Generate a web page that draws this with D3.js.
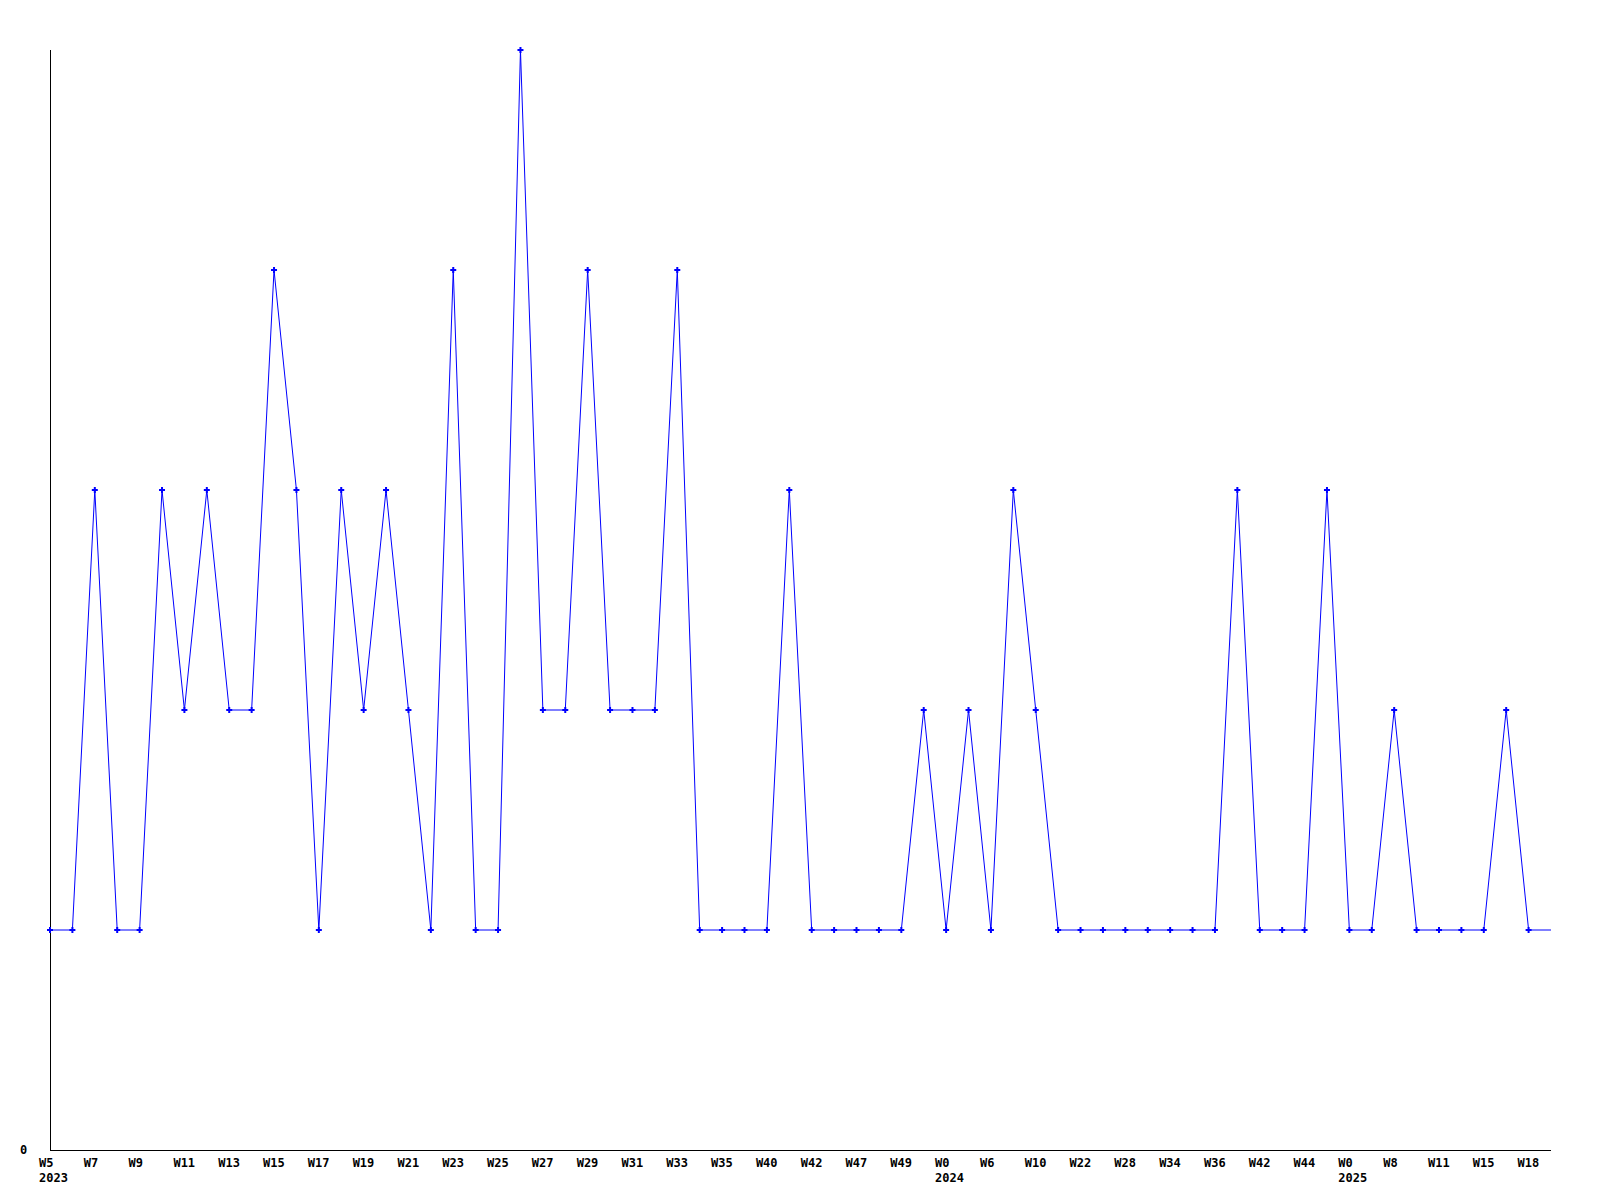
<!DOCTYPE html>
<html>
<head>
<meta charset="utf-8">
<script src="https://cdn.jsdelivr.net/npm/d3@7"></script>
<style>
  html, body { margin: 0; padding: 0; background: #fff; }
  svg { display: block; }
  text { font-family: "DejaVu Sans Mono", monospace; font-weight: bold; font-size: 12px; fill: #000; }
</style>
</head>
<body>
<svg id="chart" width="1600" height="1200"></svg>
<script>
// Week labels (only every other one is shown on the axis)
const weeks = [
  "W5","W6","W7","W8","W9","W10","W11","W12","W13","W14",
  "W15","W16","W17","W18","W19","W20","W21","W22","W23","W24",
  "W25","W26","W27","W28","W29","W30","W31","W32","W33","W34",
  "W35","W38","W40","W41","W42","W45","W47","W48","W49","W51",
  "W0","W3","W6","W8","W10","W17","W22","W25","W28","W31",
  "W34","W35","W36","W39","W42","W43","W44","W47","W0","W5",
  "W8","W10","W11","W13","W15","W17","W18"
];
const years = [
  2023,2023,2023,2023,2023,2023,2023,2023,2023,2023,
  2023,2023,2023,2023,2023,2023,2023,2023,2023,2023,
  2023,2023,2023,2023,2023,2023,2023,2023,2023,2023,
  2023,2023,2023,2023,2023,2023,2023,2023,2023,2023,
  2024,2024,2024,2024,2024,2024,2024,2024,2024,2024,
  2024,2024,2024,2024,2024,2024,2024,2024,2025,2025,
  2025,2025,2025,2025,2025,2025,2025
];
const values = [
  1,1,3,1,1,3,2,3,2,2,
  4,3,1,3,2,3,2,1,4,1,
  1,5,2,2,4,2,2,2,4,1,
  1,1,1,3,1,1,1,1,1,2,
  1,2,1,3,2,1,1,1,1,1,
  1,1,1,3,1,1,1,3,1,1,
  2,1,1,1,1,2,1
];
const yTickValues = [0];

(function () {
  const svg = d3.select("#chart");
  const mLeft = 50, mRight = 1551, mTop = 50, mBottom = 1150;

  // one extra slot past the last week: the axis (and line) run to it
  const x = d3.scaleLinear().domain([0, values.length]).range([mLeft, mRight]);
  const y = d3.scaleLinear().domain([0, d3.max(values)]).range([mBottom, mTop]);

  // axis lines
  svg.append("line").attr("x1", mLeft + 0.5).attr("x2", mLeft + 0.5)
    .attr("y1", mTop).attr("y2", mBottom + 0.5)
    .attr("stroke", "#000").attr("stroke-width", 1);
  svg.append("line").attr("x1", mLeft).attr("x2", mRight)
    .attr("y1", mBottom + 0.5).attr("y2", mBottom + 0.5)
    .attr("stroke", "#000").attr("stroke-width", 1);

  // y tick labels
  svg.selectAll("text.ylab").data(yTickValues).enter().append("text")
    .attr("class", "ylab")
    .attr("x", mLeft - 30)
    .attr("y", d => y(d) + 4)
    .text(d => d);

  // x labels (every other category)
  let lastYear = null;
  weeks.forEach((w, i) => {
    if (i % 2 !== 0) return;
    svg.append("text").attr("x", x(i) - 11).attr("y", mBottom + 17).text(w);
    if (years[i] !== lastYear) {
      svg.append("text").attr("x", x(i) - 11).attr("y", mBottom + 32).text(years[i]);
      lastYear = years[i];
    }
  });

  // line (extended at last value to the end of the axis)
  const lineData = values.map((v, i) => [i, v]);
  lineData.push([values.length, values[values.length - 1]]);
  const line = d3.line().x(d => x(d[0])).y(d => y(d[1]));
  svg.append("path").datum(lineData)
    .attr("d", line)
    .attr("fill", "none")
    .attr("stroke", "#0000ff")
    .attr("stroke-width", 1);

  // markers
  const sym = d3.symbol().type(d3.symbolCross).size(20);
  svg.selectAll("path.pt").data(values).enter().append("path")
    .attr("class", "pt")
    .attr("d", sym)
    .attr("transform", (d, i) => `translate(${x(i)},${y(d)})`)
    .attr("fill", "#0000ff");
})();
</script>
</body>
</html>
